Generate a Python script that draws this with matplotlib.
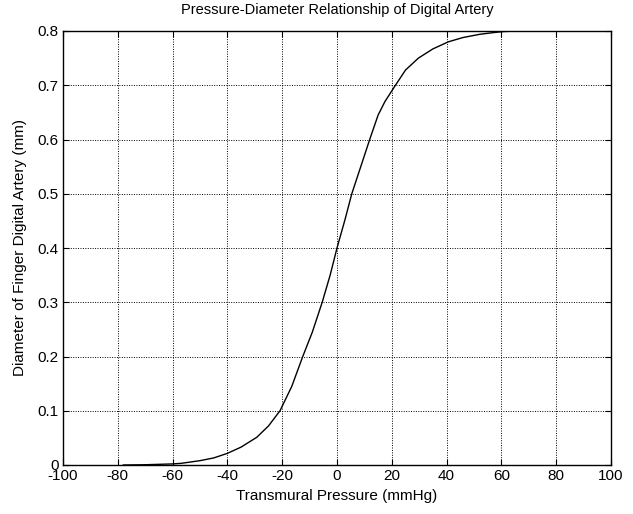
import matplotlib
matplotlib.use("Agg")
import matplotlib.pyplot as plt

plt.rcParams['font.family'] = ['Liberation Sans', 'DejaVu Sans']
plt.rcParams['axes.unicode_minus'] = False

pressure = [-78, -70, -60, -57, -50, -45, -40, -35, -29.3, -25, -20.8, -16.5, -12.5, -9, -5.4, -2.5, 0,
            2.9, 5.4, 9, 12, 15, 17.5, 21.2, 25, 29.7, 35, 40.6, 46, 52.2, 57, 60.7, 66, 73]
diameter = [0.0, 0.0005, 0.002, 0.003, 0.008, 0.013, 0.0215, 0.033, 0.051, 0.072, 0.1, 0.145, 0.2, 0.245, 0.3, 0.35, 0.4,
            0.452, 0.5, 0.555, 0.601, 0.645, 0.67, 0.699, 0.728, 0.750, 0.767, 0.780, 0.788, 0.794, 0.797, 0.799, 0.8, 0.8]

title = "Pressure-Diameter Relationship of Digital Artery"
xlabel = "Transmural Pressure (mmHg)"
ylabel = "Diameter of Finger Digital Artery (mm)"
xticks = list(range(-100, 101, 20))
yticks = [0, 0.1, 0.2, 0.3, 0.4, 0.5, 0.6, 0.7, 0.8]
yticklabels = ["0", "0.1", "0.2", "0.3", "0.4", "0.5", "0.6", "0.7", "0.8"]

fig = plt.figure(figsize=(6.33, 5.14), dpi=100)
ax = fig.add_axes([63/633, 1-465/514, (611-63)/633, (465-31)/514])
ax.plot(pressure, diameter, color='black', linewidth=1.0)
ax.set_xlim(-100, 100)
ax.set_ylim(0, 0.8)
ax.set_xticks(xticks)
ax.set_yticks(yticks)
ax.set_yticklabels(yticklabels)
ax.grid(True, color='black', linestyle=(0, (1, 1.5)), linewidth=0.7)
ax.tick_params(direction='in', top=True, right=True, labelsize=11, length=4, pad=3)
for s in ax.spines.values():
    s.set_linewidth(1.0)
ax.set_title(title, fontsize=10.5, pad=12)
ax.set_xlabel(xlabel, fontsize=11, labelpad=4)
ax.set_ylabel(ylabel, fontsize=11, labelpad=8)
fig.savefig("out.png", dpi=100)
